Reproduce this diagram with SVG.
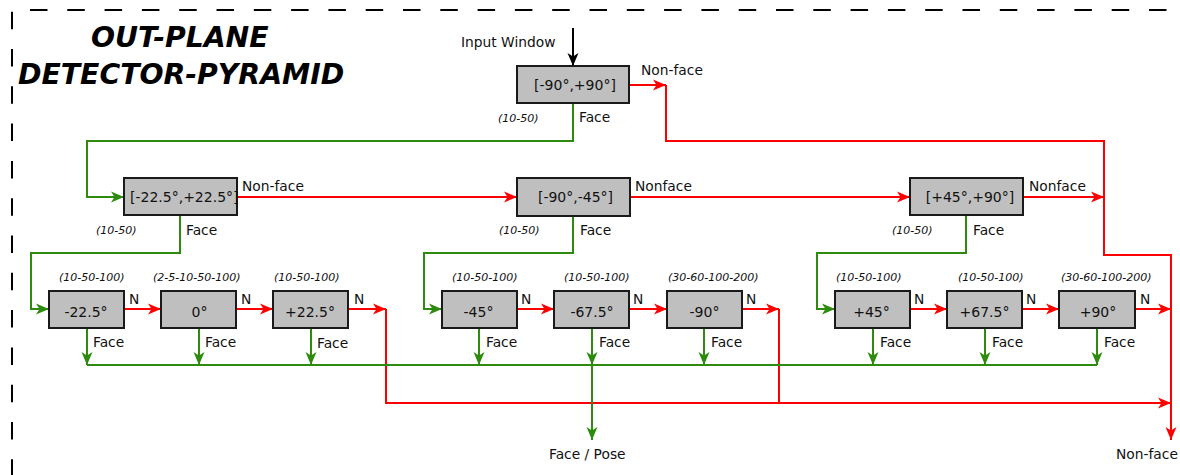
<svg xmlns="http://www.w3.org/2000/svg" width="1180" height="475" viewBox="0 0 1180 475">
<style>
.frame{fill:none;stroke:#000;stroke-width:2;stroke-dasharray:17.5 19.8}
.box{fill:#bfbfbf;stroke:#1a1a1a;stroke-width:2}
.bt{font-family:"DejaVu Sans",sans-serif;font-size:14px;fill:#111;text-anchor:middle}
.lb{font-family:"DejaVu Sans",sans-serif;font-size:13.8px;fill:#111}
.it{font-family:"DejaVu Sans",sans-serif;font-size:11px;font-style:italic;fill:#111}
.title{font-family:"DejaVu Sans",sans-serif;font-size:28.3px;font-weight:bold;font-style:italic;fill:#000}
.r{fill:none;stroke:#ff0000;stroke-width:2}
.g{fill:none;stroke:#2e8b0f;stroke-width:2}
.k{fill:none;stroke:#000;stroke-width:2}
.ra{marker-end:url(#mr)}
.ga{marker-end:url(#mg)}
.ka{marker-end:url(#mk)}
</style>
<defs>
<marker id="mr" markerUnits="userSpaceOnUse" markerWidth="14" markerHeight="12" refX="13" refY="6" orient="auto"><path d="M0,0.5 L13,6 L0,11.5 L3.5,6 Z" fill="#ff0000"/></marker>
<marker id="mg" markerUnits="userSpaceOnUse" markerWidth="14" markerHeight="12" refX="13" refY="6" orient="auto"><path d="M0,0.5 L13,6 L0,11.5 L3.5,6 Z" fill="#2e8b0f"/></marker>
<marker id="mk" markerUnits="userSpaceOnUse" markerWidth="14" markerHeight="12" refX="13" refY="6" orient="auto"><path d="M0,0.5 L13,6 L0,11.5 L3.5,6 Z" fill="#000"/></marker>
</defs>

<g id="frame">
<line class="frame" x1="30" y1="10" x2="1180" y2="10"/>
<line class="frame" x1="12" y1="11.7" x2="12" y2="475"/>
</g>

<g id="title">
<text class="title" x="91" y="47">OUT-PLANE</text>
<text class="title" x="18" y="84">DETECTOR-PYRAMID</text>
</g>

<g id="connectors">
<path class="k ka" d="M573,28 V66"/>
<path class="r ra" d="M629,85 H666"/>
<path class="r ra" d="M666,85 V141 H1104 V255 H1171 V440"/>
<path class="r ra" d="M237,197 H517"/>
<path class="r ra" d="M630,197 H910"/>
<path class="r ra" d="M1023,197 H1104"/>
<path class="r ra" d="M124,309 H161"/>
<path class="r ra" d="M236,309 H273"/>
<path class="r ra" d="M348,309 H386"/>
<path class="r ra" d="M517,309 H554"/>
<path class="r ra" d="M629,309 H667"/>
<path class="r ra" d="M742,309 H779"/>
<path class="r ra" d="M910,309 H947"/>
<path class="r ra" d="M1022,309 H1059"/>
<path class="r ra" d="M1135,309 H1171"/>
<path class="r ra" d="M386,309 V403 H1171"/>
<path class="r" d="M779,309 V403"/>
<path class="g ga" d="M573,103 V141 H87 V197 H124"/>
<path class="g ga" d="M180,215 V253 H31 V309 H49"/>
<path class="g ga" d="M573,216 V253 H424 V309 H442"/>
<path class="g ga" d="M966,215 V253 H817 V309 H835"/>
<path class="g ga" d="M87,328 V365"/>
<path class="g ga" d="M199,328 V365"/>
<path class="g ga" d="M311,328 V365"/>
<path class="g ga" d="M479,328 V365"/>
<path class="g ga" d="M592,328 V365"/>
<path class="g ga" d="M704,328 V365"/>
<path class="g ga" d="M873,328 V365"/>
<path class="g ga" d="M985,328 V365"/>
<path class="g ga" d="M1097,328 V365"/>
<path class="g" d="M87,365 H1097"/>
<path class="g ga" d="M592,365 V440"/>
</g>

<g id="labels">
<text class="lb" x="461" y="47">Input Window</text>
<text class="lb" x="641" y="75">Non-face</text>
<text class="lb" x="579" y="122">Face</text>
<text class="it" x="498" y="122">(10-50)</text>
<text class="lb" x="242" y="191">Non-face</text>
<text class="lb" x="186" y="235">Face</text>
<text class="it" x="96" y="234">(10-50)</text>
<text class="lb" x="635" y="191">Nonface</text>
<text class="lb" x="580" y="235">Face</text>
<text class="it" x="499" y="234">(10-50)</text>
<text class="lb" x="1029" y="191">Nonface</text>
<text class="lb" x="973" y="235">Face</text>
<text class="it" x="892" y="234">(10-50)</text>
<text class="lb" x="129" y="304">N</text>
<text class="lb" x="241" y="304">N</text>
<text class="lb" x="354" y="304">N</text>
<text class="lb" x="521" y="304">N</text>
<text class="lb" x="633" y="304">N</text>
<text class="lb" x="746" y="304">N</text>
<text class="lb" x="914" y="304">N</text>
<text class="lb" x="1026" y="304">N</text>
<text class="lb" x="1140" y="304">N</text>
<text class="lb" x="93" y="347">Face</text>
<text class="lb" x="205" y="347">Face</text>
<text class="lb" x="317" y="348">Face</text>
<text class="lb" x="486" y="347">Face</text>
<text class="lb" x="599" y="347">Face</text>
<text class="lb" x="711" y="347">Face</text>
<text class="lb" x="880" y="347">Face</text>
<text class="lb" x="992" y="347">Face</text>
<text class="lb" x="1104" y="347">Face</text>
<text class="it" x="59" y="281">(10-50-100)</text>
<text class="it" x="153" y="281">(2-5-10-50-100)</text>
<text class="it" x="274" y="281">(10-50-100)</text>
<text class="it" x="452" y="281">(10-50-100)</text>
<text class="it" x="564" y="281">(10-50-100)</text>
<text class="it" x="668" y="281">(30-60-100-200)</text>
<text class="it" x="836" y="281">(10-50-100)</text>
<text class="it" x="958" y="281">(10-50-100)</text>
<text class="it" x="1061" y="281">(30-60-100-200)</text>
<text class="lb" x="549" y="459">Face / Pose</text>
<text class="lb" x="1116" y="459">Non-face</text>
</g>

<g id="n-top"><rect class="box" x="517" y="66" width="112" height="37"/><text class="bt" x="575" y="90">[-90°,+90°]</text></g>
<g id="n-mid-left"><rect class="box" x="124" y="178" width="113" height="37"/><text class="bt" x="130" y="202" style="text-anchor:start">[-22.5°,+22.5°]</text></g>
<g id="n-mid-center"><rect class="box" x="517" y="178" width="113" height="38"/><text class="bt" x="575.5" y="202">[-90°,-45°]</text></g>
<g id="n-mid-right"><rect class="box" x="910" y="178" width="113" height="37"/><text class="bt" x="970" y="202">[+45°,+90°]</text></g>

<g id="n-m22"><rect class="box" x="49" y="291" width="75" height="37"/><text class="bt" x="86" y="317">-22.5°</text></g>
<g id="n-0"><rect class="box" x="161" y="291" width="75" height="37"/><text class="bt" x="199.5" y="317">0°</text></g>
<g id="n-p22"><rect class="box" x="273" y="291" width="75" height="37"/><text class="bt" x="310" y="317">+22.5°</text></g>
<g id="n-m45"><rect class="box" x="442" y="291" width="75" height="37"/><text class="bt" x="478.5" y="317">-45°</text></g>
<g id="n-m67"><rect class="box" x="554" y="291" width="75" height="37"/><text class="bt" x="592" y="317">-67.5°</text></g>
<g id="n-m90"><rect class="box" x="667" y="291" width="75" height="37"/><text class="bt" x="704.5" y="317">-90°</text></g>
<g id="n-p45"><rect class="box" x="835" y="291" width="75" height="37"/><text class="bt" x="871.5" y="317">+45°</text></g>
<g id="n-p67"><rect class="box" x="947" y="291" width="75" height="37"/><text class="bt" x="984.5" y="317">+67.5°</text></g>
<g id="n-p90"><rect class="box" x="1059" y="291" width="76" height="37"/><text class="bt" x="1098" y="317">+90°</text></g>
</svg>
